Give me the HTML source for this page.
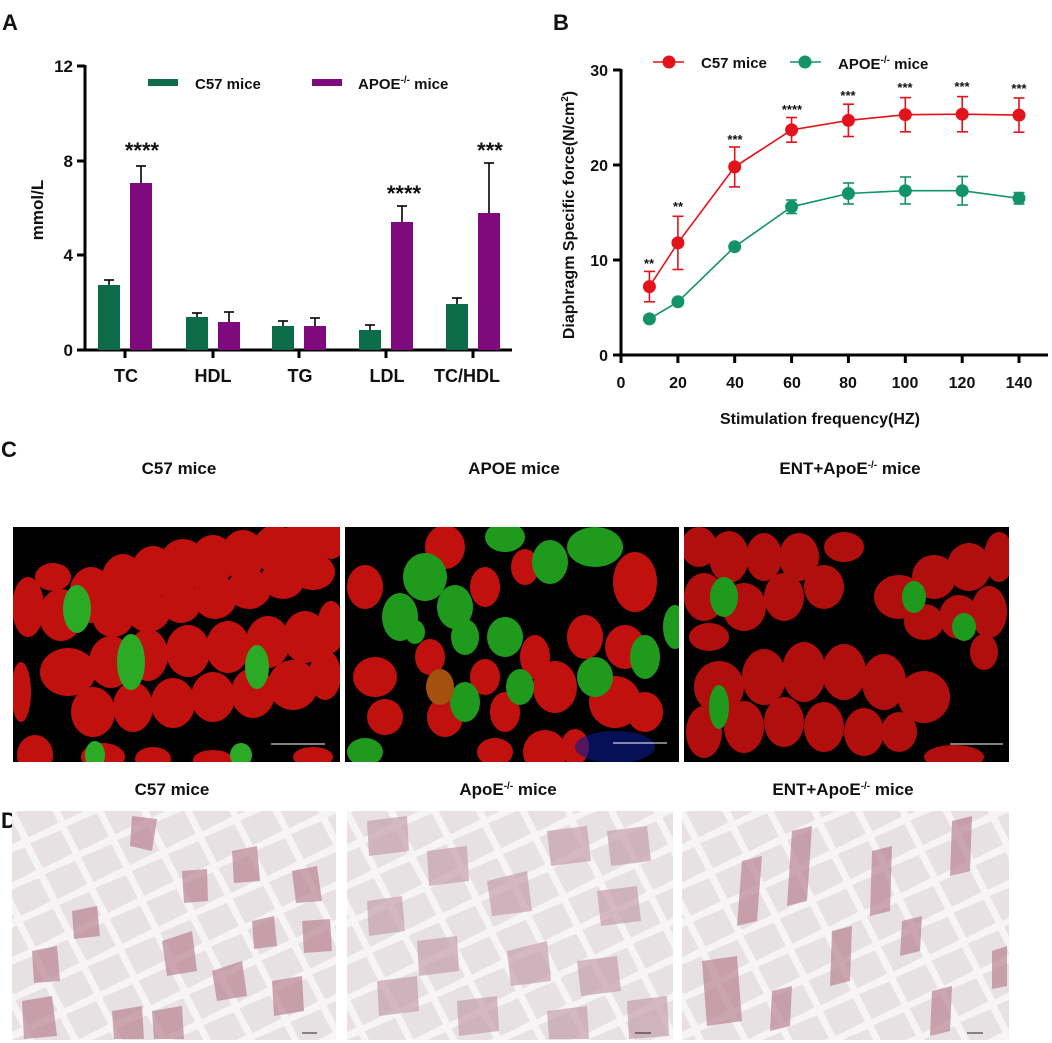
<!DOCTYPE html>
<html><head><meta charset="utf-8"><style>
html,body{margin:0;padding:0;background:#fff;}
body{width:1052px;height:1043px;position:relative;overflow:hidden;font-family:"Liberation Sans",sans-serif;}
svg.main{position:absolute;left:0;top:0;}
text{font-family:"Liberation Sans",sans-serif;font-weight:bold;fill:#111;}
</style></head><body>
<svg class="main" width="1052" height="1043" viewBox="0 0 1052 1043">
<defs>
<pattern id="cells" width="40" height="34" patternUnits="userSpaceOnUse" patternTransform="rotate(-25)">
<rect width="40" height="34" fill="#f6f4f5"/>
<polygon points="3,3 36,4 37,30 4,31" fill="#e7e1e4"/>
</pattern>
</defs>
<!-- Panel letters -->
<text x="2" y="30" font-size="22">A</text>
<text x="553" y="30" font-size="22">B</text>
<text x="1" y="457" font-size="22">C</text>
<text x="1" y="828" font-size="22">D</text>

<!-- ===== Panel A ===== -->
<g stroke="#000" stroke-width="3" fill="none">
<line x1="85" y1="65" x2="85" y2="351"/>
<line x1="84" y1="350" x2="512" y2="350"/>
<line x1="77" y1="66" x2="85" y2="66"/><line x1="77" y1="161" x2="85" y2="161"/>
<line x1="77" y1="255" x2="85" y2="255"/><line x1="77" y1="350" x2="85" y2="350"/>
<line x1="125" y1="350" x2="125" y2="358"/><line x1="213" y1="350" x2="213" y2="358"/>
<line x1="299" y1="350" x2="299" y2="358"/><line x1="386" y1="350" x2="386" y2="358"/>
<line x1="473" y1="350" x2="473" y2="358"/>
</g>
<g font-size="17" text-anchor="end">
<text x="73" y="72">12</text><text x="73" y="167">8</text><text x="73" y="261">4</text><text x="73" y="356">0</text>
</g>
<text transform="translate(43,210) rotate(-90)" font-size="17" text-anchor="middle">mmol/L</text>
<g font-size="18" text-anchor="middle">
<text x="126" y="382">TC</text><text x="213" y="382">HDL</text><text x="300" y="382">TG</text>
<text x="387" y="382">LDL</text><text x="467" y="382">TC/HDL</text>
</g>
<g fill="#0c6b48">
<rect x="98" y="285" width="22" height="65"/>
<rect x="186" y="317" width="22" height="33"/>
<rect x="272" y="326" width="22" height="24"/>
<rect x="359" y="330" width="22" height="20"/>
<rect x="446" y="304" width="22" height="46"/>
</g>
<g fill="#7e0a7e">
<rect x="130" y="183" width="22" height="167"/>
<rect x="218" y="322" width="22" height="28"/>
<rect x="304" y="326" width="22" height="24"/>
<rect x="391" y="222" width="22" height="128"/>
<rect x="478" y="213" width="22" height="137"/>
</g>
<g stroke="#000" stroke-width="1.6">
<line x1="109" y1="285" x2="109" y2="280"/><line x1="104" y1="280" x2="114" y2="280"/>
<line x1="141" y1="183" x2="141" y2="166"/><line x1="136" y1="166" x2="146" y2="166"/>
<line x1="197" y1="317" x2="197" y2="313"/><line x1="192" y1="313" x2="202" y2="313"/>
<line x1="229" y1="322" x2="229" y2="312"/><line x1="224" y1="312" x2="234" y2="312"/>
<line x1="283" y1="326" x2="283" y2="321"/><line x1="278" y1="321" x2="288" y2="321"/>
<line x1="315" y1="326" x2="315" y2="318"/><line x1="310" y1="318" x2="320" y2="318"/>
<line x1="370" y1="330" x2="370" y2="325"/><line x1="365" y1="325" x2="375" y2="325"/>
<line x1="402" y1="222" x2="402" y2="206"/><line x1="397" y1="206" x2="407" y2="206"/>
<line x1="457" y1="304" x2="457" y2="298"/><line x1="452" y1="298" x2="462" y2="298"/>
<line x1="489" y1="213" x2="489" y2="163"/><line x1="484" y1="163" x2="494" y2="163"/>
</g>
<g font-size="22" text-anchor="middle">
<text x="142" y="158">****</text><text x="404" y="201">****</text><text x="490" y="158">***</text>
</g>
<rect x="148" y="79" width="30" height="7" fill="#0c6b48"/>
<text x="195" y="89" font-size="15">C57  mice</text>
<rect x="312" y="79" width="30" height="7" fill="#7e0a7e"/>
<text x="358" y="89" font-size="15">APOE<tspan font-size="10" dy="-6">-/-</tspan><tspan dy="6"> mice</tspan></text>

<!-- ===== Panel B ===== -->
<g stroke="#000" stroke-width="3" fill="none">
<line x1="621" y1="69" x2="621" y2="356"/>
<line x1="620" y1="355" x2="1048" y2="355"/>
<line x1="613" y1="70" x2="621" y2="70"/><line x1="613" y1="165" x2="621" y2="165"/>
<line x1="613" y1="260" x2="621" y2="260"/><line x1="613" y1="355" x2="621" y2="355"/>
<line x1="621" y1="355" x2="621" y2="363"/><line x1="677.9" y1="355" x2="677.9" y2="363"/>
<line x1="734.7" y1="355" x2="734.7" y2="363"/><line x1="791.6" y1="355" x2="791.6" y2="363"/>
<line x1="848.4" y1="355" x2="848.4" y2="363"/><line x1="905.3" y1="355" x2="905.3" y2="363"/>
<line x1="962.2" y1="355" x2="962.2" y2="363"/><line x1="1019" y1="355" x2="1019" y2="363"/>
</g>
<g font-size="16" text-anchor="end">
<text x="608" y="76">30</text><text x="608" y="171">20</text><text x="608" y="266">10</text><text x="608" y="361">0</text>
</g>
<g font-size="16" text-anchor="middle">
<text x="621" y="388">0</text><text x="678" y="388">20</text><text x="735" y="388">40</text><text x="792" y="388">60</text>
<text x="848" y="388">80</text><text x="905" y="388">100</text><text x="962" y="388">120</text><text x="1019" y="388">140</text>
</g>
<text x="820" y="424" font-size="16" text-anchor="middle">Stimulation frequency(HZ)</text>
<text transform="translate(574,215) rotate(-90)" font-size="16" text-anchor="middle">Diaphragm Specific force(N/cm<tspan font-size="10" dy="-6">2</tspan><tspan dy="6">)</tspan></text>
<g stroke="#129466" stroke-width="1.6" fill="none">
<polyline points="649.4,318.9 677.9,301.8 734.7,246.7 791.6,206.8 848.4,193.5 905.3,190.7 962.2,190.7 1019,198.3"/>
<line x1="791.6" y1="200" x2="791.6" y2="213.5"/><line x1="786" y1="200" x2="797" y2="200"/><line x1="786" y1="213.5" x2="797" y2="213.5"/>
<line x1="848.4" y1="183" x2="848.4" y2="204"/><line x1="843" y1="183" x2="854" y2="183"/><line x1="843" y1="204" x2="854" y2="204"/>
<line x1="905.3" y1="177" x2="905.3" y2="204"/><line x1="900" y1="177" x2="911" y2="177"/><line x1="900" y1="204" x2="911" y2="204"/>
<line x1="962.2" y1="176.5" x2="962.2" y2="205"/><line x1="957" y1="176.5" x2="968" y2="176.5"/><line x1="957" y1="205" x2="968" y2="205"/>
<line x1="1019" y1="192.6" x2="1019" y2="204"/><line x1="1013.5" y1="192.6" x2="1024.5" y2="192.6"/><line x1="1013.5" y1="204" x2="1024.5" y2="204"/>
</g>
<g fill="#129466">
<circle cx="649.4" cy="318.9" r="6.5"/><circle cx="677.9" cy="301.8" r="6.5"/><circle cx="734.7" cy="246.7" r="6.5"/>
<circle cx="791.6" cy="206.8" r="6.5"/><circle cx="848.4" cy="193.5" r="6.5"/><circle cx="905.3" cy="190.7" r="6.5"/>
<circle cx="962.2" cy="190.7" r="6.5"/><circle cx="1019" cy="198.3" r="6.5"/>
</g>
<g stroke="#e3131b" stroke-width="1.6" fill="none">
<polyline points="649.4,286.6 677.9,242.9 734.7,166.9 791.6,129.9 848.4,120.4 905.3,114.7 962.2,114.2 1019,115.1"/>
<line x1="649.4" y1="271.4" x2="649.4" y2="301.8"/><line x1="644" y1="271.4" x2="655" y2="271.4"/><line x1="644" y1="301.8" x2="655" y2="301.8"/>
<line x1="677.9" y1="216.3" x2="677.9" y2="269.5"/><line x1="672.5" y1="216.3" x2="683.5" y2="216.3"/><line x1="672.5" y1="269.5" x2="683.5" y2="269.5"/>
<line x1="734.7" y1="147" x2="734.7" y2="186.9"/><line x1="729" y1="147" x2="740" y2="147"/><line x1="729" y1="186.9" x2="740" y2="186.9"/>
<line x1="791.6" y1="117.5" x2="791.6" y2="142.2"/><line x1="786" y1="117.5" x2="797" y2="117.5"/><line x1="786" y1="142.2" x2="797" y2="142.2"/>
<line x1="848.4" y1="104.2" x2="848.4" y2="136.5"/><line x1="843" y1="104.2" x2="854" y2="104.2"/><line x1="843" y1="136.5" x2="854" y2="136.5"/>
<line x1="905.3" y1="97.6" x2="905.3" y2="131.8"/><line x1="900" y1="97.6" x2="911" y2="97.6"/><line x1="900" y1="131.8" x2="911" y2="131.8"/>
<line x1="962.2" y1="96.6" x2="962.2" y2="131.8"/><line x1="957" y1="96.6" x2="968" y2="96.6"/><line x1="957" y1="131.8" x2="968" y2="131.8"/>
<line x1="1019" y1="98" x2="1019" y2="132.2"/><line x1="1013.5" y1="98" x2="1024.5" y2="98"/><line x1="1013.5" y1="132.2" x2="1024.5" y2="132.2"/>
</g>
<g fill="#e3131b">
<circle cx="649.4" cy="286.6" r="6.5"/><circle cx="677.9" cy="242.9" r="6.5"/><circle cx="734.7" cy="166.9" r="6.5"/>
<circle cx="791.6" cy="129.9" r="6.5"/><circle cx="848.4" cy="120.4" r="6.5"/><circle cx="905.3" cy="114.7" r="6.5"/>
<circle cx="962.2" cy="114.2" r="6.5"/><circle cx="1019" cy="115.1" r="6.5"/>
</g>
<g font-size="13" text-anchor="middle">
<text x="649" y="268">**</text><text x="678" y="211">**</text><text x="735" y="144">***</text><text x="792" y="114">****</text>
<text x="848" y="100">***</text><text x="905" y="92">***</text><text x="962" y="91">***</text><text x="1019" y="93">***</text>
</g>
<line x1="653" y1="62" x2="684" y2="62" stroke="#e3131b" stroke-width="1.6"/><circle cx="669" cy="62" r="6.5" fill="#e3131b"/>
<text x="701" y="68" font-size="15">C57  mice</text>
<line x1="790" y1="62" x2="821" y2="62" stroke="#129466" stroke-width="1.6"/><circle cx="805" cy="62" r="6.5" fill="#129466"/>
<text x="838" y="69" font-size="15">APOE<tspan font-size="10" dy="-6">-/-</tspan><tspan dy="6"> mice</tspan></text>

<!-- titles -->
<g font-size="17" text-anchor="middle">
<text x="179" y="474">C57 mice</text>
<text x="514" y="474">APOE mice</text>
<text x="850" y="474">ENT+ApoE<tspan font-size="10" dy="-6">-/-</tspan><tspan dy="6">  mice</tspan></text>
<text x="172" y="795">C57 mice</text>
<text x="508" y="795">ApoE<tspan font-size="10" dy="-6">-/-</tspan><tspan dy="6"> mice</tspan></text>
<text x="843" y="795">ENT+ApoE<tspan font-size="10" dy="-6">-/-</tspan><tspan dy="6">  mice</tspan></text>
</g>

<!-- C1 -->
<svg x="13" y="527" width="327" height="235" overflow="hidden">
<rect width="327" height="235" fill="#000"/>
<g fill="#c1110f">
<ellipse cx="15" cy="80" rx="16" ry="30"/><ellipse cx="48" cy="88" rx="22" ry="26"/><ellipse cx="78" cy="68" rx="22" ry="28"/>
<ellipse cx="110" cy="55" rx="22" ry="28"/><ellipse cx="140" cy="45" rx="22" ry="26"/><ellipse cx="170" cy="38" rx="24" ry="26"/>
<ellipse cx="200" cy="33" rx="22" ry="25"/><ellipse cx="230" cy="28" rx="22" ry="25"/><ellipse cx="262" cy="22" rx="22" ry="24"/>
<ellipse cx="292" cy="14" rx="22" ry="24"/><ellipse cx="318" cy="10" rx="16" ry="22"/>
<ellipse cx="100" cy="92" rx="20" ry="18"/><ellipse cx="135" cy="85" rx="22" ry="20"/><ellipse cx="168" cy="76" rx="20" ry="20"/>
<ellipse cx="202" cy="70" rx="22" ry="22"/><ellipse cx="236" cy="62" rx="22" ry="20"/><ellipse cx="270" cy="52" rx="22" ry="20"/>
<ellipse cx="300" cy="45" rx="22" ry="18"/><ellipse cx="40" cy="50" rx="18" ry="14"/>
<ellipse cx="55" cy="145" rx="28" ry="24"/><ellipse cx="98" cy="135" rx="22" ry="26"/><ellipse cx="135" cy="128" rx="20" ry="26"/>
<ellipse cx="175" cy="124" rx="22" ry="26"/><ellipse cx="215" cy="120" rx="22" ry="26"/><ellipse cx="255" cy="115" rx="22" ry="26"/>
<ellipse cx="292" cy="110" rx="22" ry="26"/><ellipse cx="318" cy="100" rx="14" ry="26"/>
<ellipse cx="80" cy="185" rx="22" ry="25"/><ellipse cx="120" cy="180" rx="20" ry="25"/><ellipse cx="160" cy="176" rx="22" ry="25"/>
<ellipse cx="200" cy="170" rx="22" ry="25"/><ellipse cx="240" cy="166" rx="22" ry="25"/><ellipse cx="280" cy="158" rx="25" ry="25"/>
<ellipse cx="312" cy="148" rx="16" ry="25"/><ellipse cx="8" cy="165" rx="10" ry="30"/>
<ellipse cx="22" cy="228" rx="18" ry="20"/><ellipse cx="90" cy="230" rx="22" ry="14"/><ellipse cx="140" cy="232" rx="18" ry="12"/>
<ellipse cx="200" cy="233" rx="20" ry="10"/><ellipse cx="300" cy="230" rx="20" ry="10"/>
</g>
<g fill="#2bab25"><ellipse cx="64" cy="82" rx="14" ry="24"/><ellipse cx="118" cy="135" rx="14" ry="28"/><ellipse cx="244" cy="140" rx="12" ry="22"/><ellipse cx="228" cy="228" rx="11" ry="12"/><ellipse cx="82" cy="228" rx="10" ry="14"/></g>
<line x1="258" y1="217" x2="312" y2="217" stroke="#fff" stroke-width="1"/>
</svg>
<!-- C2 -->
<svg x="345" y="527" width="334" height="235" overflow="hidden">
<rect width="334" height="235" fill="#000"/>
<g fill="#c1110f">
<ellipse cx="20" cy="60" rx="18" ry="22"/><ellipse cx="100" cy="20" rx="20" ry="22"/><ellipse cx="140" cy="60" rx="15" ry="20"/>
<ellipse cx="180" cy="40" rx="14" ry="18"/><ellipse cx="290" cy="55" rx="22" ry="30"/><ellipse cx="240" cy="110" rx="18" ry="22"/>
<ellipse cx="190" cy="130" rx="15" ry="22"/><ellipse cx="280" cy="120" rx="20" ry="22"/>
<ellipse cx="85" cy="130" rx="15" ry="18"/><ellipse cx="140" cy="150" rx="15" ry="18"/><ellipse cx="160" cy="185" rx="15" ry="20"/>
<ellipse cx="210" cy="160" rx="22" ry="26"/><ellipse cx="30" cy="150" rx="22" ry="20"/><ellipse cx="40" cy="190" rx="18" ry="18"/>
<ellipse cx="100" cy="190" rx="18" ry="20"/><ellipse cx="200" cy="225" rx="22" ry="22"/><ellipse cx="230" cy="220" rx="14" ry="18"/>
<ellipse cx="270" cy="175" rx="26" ry="26"/><ellipse cx="300" cy="185" rx="18" ry="20"/><ellipse cx="150" cy="225" rx="18" ry="14"/>
</g>
<g fill="#1f9a1d">
<ellipse cx="55" cy="90" rx="18" ry="24"/><ellipse cx="80" cy="50" rx="22" ry="24"/><ellipse cx="110" cy="80" rx="18" ry="22"/>
<ellipse cx="160" cy="10" rx="20" ry="15"/><ellipse cx="205" cy="35" rx="18" ry="22"/><ellipse cx="250" cy="20" rx="28" ry="20"/>
<ellipse cx="300" cy="130" rx="15" ry="22"/><ellipse cx="250" cy="150" rx="18" ry="20"/><ellipse cx="120" cy="110" rx="14" ry="18"/>
<ellipse cx="160" cy="110" rx="18" ry="20"/><ellipse cx="120" cy="175" rx="15" ry="20"/><ellipse cx="175" cy="160" rx="14" ry="18"/>
<ellipse cx="70" cy="105" rx="10" ry="12"/><ellipse cx="20" cy="225" rx="18" ry="14"/><ellipse cx="330" cy="100" rx="12" ry="22"/>
</g>
<ellipse cx="95" cy="160" rx="14" ry="18" fill="#a4500f"/>
<ellipse cx="270" cy="220" rx="40" ry="16" fill="#0a1a90" opacity="0.6"/>
<line x1="268" y1="216" x2="322" y2="216" stroke="#fff" stroke-width="1"/>
</svg>
<!-- C3 -->
<svg x="684" y="527" width="325" height="235" overflow="hidden">
<rect width="325" height="235" fill="#000"/>
<g fill="#b00f0d">
<ellipse cx="15" cy="20" rx="18" ry="20"/><ellipse cx="45" cy="30" rx="20" ry="26"/><ellipse cx="80" cy="30" rx="18" ry="24"/><ellipse cx="115" cy="30" rx="20" ry="24"/>
<ellipse cx="20" cy="70" rx="20" ry="24"/><ellipse cx="60" cy="80" rx="22" ry="24"/><ellipse cx="100" cy="70" rx="20" ry="24"/><ellipse cx="140" cy="60" rx="20" ry="22"/>
<ellipse cx="25" cy="110" rx="20" ry="14"/><ellipse cx="160" cy="20" rx="20" ry="15"/>
<ellipse cx="215" cy="70" rx="25" ry="22"/><ellipse cx="250" cy="50" rx="22" ry="22"/><ellipse cx="285" cy="40" rx="22" ry="24"/><ellipse cx="315" cy="30" rx="15" ry="25"/>
<ellipse cx="240" cy="95" rx="20" ry="18"/><ellipse cx="275" cy="90" rx="20" ry="22"/><ellipse cx="305" cy="85" rx="18" ry="26"/><ellipse cx="300" cy="125" rx="14" ry="18"/>
<ellipse cx="35" cy="160" rx="25" ry="26"/><ellipse cx="80" cy="150" rx="22" ry="28"/><ellipse cx="120" cy="145" rx="22" ry="30"/><ellipse cx="160" cy="145" rx="22" ry="28"/>
<ellipse cx="200" cy="155" rx="22" ry="28"/><ellipse cx="240" cy="170" rx="26" ry="26"/>
<ellipse cx="20" cy="205" rx="18" ry="26"/><ellipse cx="60" cy="200" rx="20" ry="26"/><ellipse cx="100" cy="195" rx="20" ry="25"/><ellipse cx="140" cy="200" rx="20" ry="25"/>
<ellipse cx="180" cy="205" rx="20" ry="24"/><ellipse cx="215" cy="205" rx="18" ry="20"/><ellipse cx="270" cy="230" rx="30" ry="12"/>
</g>
<g fill="#1f9a1d"><ellipse cx="40" cy="70" rx="14" ry="20"/><ellipse cx="230" cy="70" rx="12" ry="16"/><ellipse cx="280" cy="100" rx="12" ry="14"/><ellipse cx="35" cy="180" rx="10" ry="22"/></g>
<line x1="266" y1="217" x2="319" y2="217" stroke="#fff" stroke-width="1"/>
</svg>

<!-- D panels -->
<svg x="12" y="811" width="324" height="229" overflow="hidden">
<rect width="324" height="229" fill="url(#cells)"/>
<g fill="#b98493" opacity="0.7">
<polygon points="120,5 145,8 140,40 118,35"/><polygon points="20,140 45,135 48,170 22,172"/><polygon points="150,130 180,120 185,160 155,165"/>
<polygon points="200,160 230,150 235,185 205,190"/><polygon points="260,170 290,165 292,200 262,205"/><polygon points="10,190 40,185 45,225 12,228"/>
<polygon points="100,200 130,195 132,228 102,228"/><polygon points="280,60 305,55 310,90 284,92"/><polygon points="220,40 245,35 248,70 222,72"/>
<polygon points="170,60 195,58 196,90 172,92"/><polygon points="60,100 85,95 88,125 62,128"/><polygon points="290,110 318,108 320,140 292,142"/>
<polygon points="240,110 262,105 265,135 242,138"/><polygon points="140,200 170,195 172,228 142,228"/>
</g>
<line x1="290" y1="222" x2="305" y2="222" stroke="#222" stroke-width="1"/>
</svg>
<svg x="347" y="811" width="326" height="229" overflow="hidden">
<rect width="326" height="229" fill="url(#cells)"/>
<g fill="#c29aa8" opacity="0.65">
<polygon points="20,10 60,5 62,40 22,45"/><polygon points="80,40 120,35 122,70 82,75"/><polygon points="140,70 180,60 185,100 145,105"/>
<polygon points="200,20 240,15 244,50 204,55"/><polygon points="250,80 290,75 294,110 254,115"/><polygon points="20,90 55,85 58,120 22,125"/>
<polygon points="70,130 110,125 112,160 72,165"/><polygon points="160,140 200,130 204,170 164,175"/><polygon points="230,150 270,145 274,180 234,185"/>
<polygon points="30,170 70,165 72,200 32,205"/><polygon points="110,190 150,185 152,220 112,225"/><polygon points="260,20 300,15 304,50 264,55"/>
<polygon points="200,200 240,195 242,228 202,228"/><polygon points="280,190 320,185 322,225 282,228"/>
</g>
<line x1="288" y1="222" x2="304" y2="222" stroke="#222" stroke-width="1"/>
</svg>
<svg x="682" y="811" width="327" height="229" overflow="hidden">
<rect width="327" height="229" fill="url(#cells)"/>
<g fill="#b98493" opacity="0.7">
<polygon points="60,50 80,45 75,110 55,115"/><polygon points="110,20 130,15 125,90 105,95"/><polygon points="190,40 210,35 208,100 188,105"/>
<polygon points="20,150 55,145 60,210 25,215"/><polygon points="90,180 110,175 108,215 88,220"/><polygon points="150,120 170,115 168,170 148,175"/>
<polygon points="250,180 270,175 268,220 248,225"/><polygon points="270,10 290,5 288,60 268,65"/><polygon points="220,110 240,105 238,140 218,145"/>
<polygon points="310,140 325,135 325,175 310,178"/>
</g>
<line x1="285" y1="222" x2="301" y2="222" stroke="#222" stroke-width="1"/>
</svg>
</svg>
</body></html>
